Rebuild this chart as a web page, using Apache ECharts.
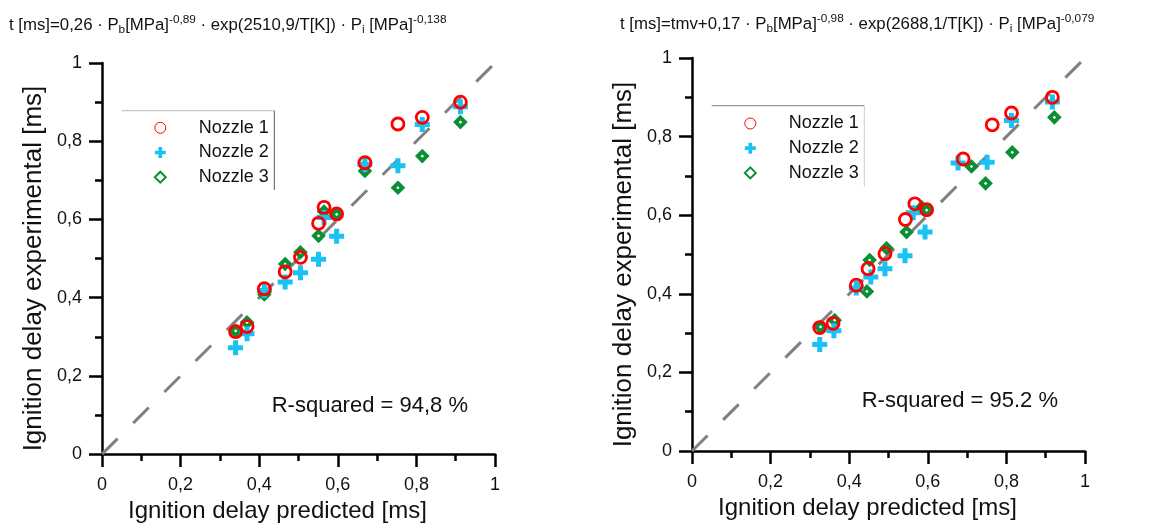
<!DOCTYPE html>
<html>
<head>
<meta charset="utf-8">
<script src="https://cdn.jsdelivr.net/npm/echarts@6/dist/echarts.min.js"></script>
<style>
html,body{margin:0;padding:0;background:#fff;}
#chart{width:1153px;height:528px;}
</style>
</head>
<body>
<div id="chart"></div>
<script>
// ---- Data ----
const seriesNames = ['Nozzle 1', 'Nozzle 2', 'Nozzle 3'];
const axisTicks = [0, 0.2, 0.4, 0.6, 0.8, 1];

// Left chart: predicted (same for all nozzles) and experimental values
const leftPredicted = [0.340, 0.369, 0.413, 0.466, 0.505, 0.551, 0.565, 0.597, 0.669, 0.753, 0.815, 0.912];
const leftExpN1 = [0.313, 0.326, 0.423, 0.466, 0.503, 0.590, 0.631, 0.614, 0.745, 0.844, 0.861, 0.900];
const leftExpN2 = [0.272, 0.308, 0.418, 0.440, 0.464, 0.498, 0.605, 0.557, 0.741, 0.737, 0.843, 0.888];
const leftExpN3 = [0.315, 0.337, 0.408, 0.486, 0.516, 0.558, 0.620, 0.613, 0.724, 0.681, 0.762, 0.849];

// Right chart
const rightPredN1 = [0.325, 0.359, 0.418, 0.448, 0.491, 0.543, 0.567, 0.597, 0.690, 0.764, 0.813, 0.917];
const rightExpN1  = [0.314, 0.325, 0.422, 0.464, 0.502, 0.589, 0.629, 0.614, 0.743, 0.830, 0.860, 0.900];
const rightPredN2 = [0.325, 0.361, 0.418, 0.455, 0.491, 0.542, 0.563, 0.593, 0.677, 0.751, 0.813, 0.917];
const rightExpN2  = [0.271, 0.306, 0.415, 0.443, 0.464, 0.497, 0.606, 0.557, 0.733, 0.735, 0.841, 0.888];
const rightPredN3 = [0.327, 0.363, 0.445, 0.452, 0.495, 0.546, 0.585, 0.597, 0.711, 0.747, 0.815, 0.922];
const rightExpN3  = [0.316, 0.333, 0.406, 0.486, 0.516, 0.557, 0.620, 0.613, 0.724, 0.681, 0.760, 0.849];

const identityLine = [[0, 0], [1, 1]];
const rSquaredLeft = 'R-squared = 94,8 %';
const rSquaredRight = 'R-squared = 95.2 %';
const xAxisName = 'Ignition delay predicted [ms]';
const yAxisName = 'Ignition delay experimental [ms]';

// ---- Styles ----
const FONT = 'Liberation Sans, Arial, Helvetica, sans-serif';
const RED = '#ff0000', CYAN = '#1ac2f4', GREEN = '#0a8f36';
const PLUS = 'path://M5,0H10V5H15V10H10V15H5V10H0V5H5Z';

function zip(xs, ys) { return xs.map((x, i) => [x, ys[i]]); }
function fmt(v) {
  const r = Math.round(v * 10) / 10;
  return String(r).replace('.', ',');
}

function makeAxis(gridIndex, isX) {
  const ax = {
    gridIndex: gridIndex, type: 'value', min: 0, max: 1, interval: 0.2,
    axisLine: { show: true, onZero: false, lineStyle: { color: '#000', width: 2.5 } },
    axisTick: { show: true, inside: false, length: 13, lineStyle: { color: '#000', width: 2.5 } },
    minorTick: { show: true, splitNumber: 2, length: 7, lineStyle: { color: '#000', width: 2.5 } },
    splitLine: { show: false },
    axisLabel: {
      color: '#111', fontFamily: FONT, fontSize: 18,
      margin: isX ? 22 : 20,
      formatter: fmt
    },
    name: isX ? xAxisName : yAxisName,
    nameLocation: 'middle',
    nameTextStyle: { color: '#111', fontFamily: FONT, fontSize: isX ? 24 : 26,
      padding: isX ? [0, 42, 0, 0] : [0, 20, 0, 0] },
    nameGap: isX ? 42 : 55
  };
  return ax;
}

function scatterSeries(name, idx, data, kind) {
  const s = { name: name, type: 'scatter', xAxisIndex: idx, yAxisIndex: idx, data: data, z: 3 };
  if (kind === 0) {
    s.symbol = 'circle'; s.symbolSize = 12; s.z = 5;
    s.itemStyle = { color: 'rgba(0,0,0,0)', borderColor: RED, borderWidth: 2.8, opacity: 1 };
  } else if (kind === 1) {
    s.symbol = PLUS; s.symbolSize = 15; s.z = 4;
    s.itemStyle = { color: CYAN, opacity: 1 };
  } else {
    s.symbol = 'diamond'; s.symbolSize = 9; s.z = 3;
    s.itemStyle = { color: '#ffffff', borderColor: GREEN, borderWidth: 4, opacity: 1 };
  }
  s.emphasis = { disabled: true };
  return s;
}

function lineSeries(idx) {
  return {
    type: 'line', xAxisIndex: idx, yAxisIndex: idx, data: identityLine,
    showSymbol: false, symbol: 'none', z: 1, silent: true,
    lineStyle: { color: '#808080', width: 3, type: [22, 22] }
  };
}

const legendData = [
  { name: seriesNames[0], icon: 'circle', itemStyle: { color: 'rgba(0,0,0,0)', borderColor: RED, borderWidth: 1 } },
  { name: seriesNames[1], icon: PLUS, itemStyle: { color: CYAN, borderWidth: 0 } },
  { name: seriesNames[2], icon: 'diamond', itemStyle: { color: '#fff', borderColor: GREEN, borderWidth: 2 } }
];

function makeLegend(left, top) {
  return {
    show: true, orient: 'vertical', left: left, top: top,
    itemWidth: 11, itemHeight: 11, itemGap: 6.7, padding: 0,
    selectedMode: false,
    data: legendData,
    textStyle: { color: '#111', fontFamily: FONT, fontSize: 18, lineHeight: 17, padding: [0, 0, 0, 28] }
  };
}

const titleRich = {
  b: { fontFamily: FONT, fontSize: 16.8, fontWeight: 'normal', color: '#111', lineHeight: 22 },
  sup: { fontFamily: FONT, fontSize: 11.8, fontWeight: 'normal', color: '#111', lineHeight: 13, verticalAlign: 'top' },
  sub: { fontFamily: FONT, fontSize: 11.8, fontWeight: 'normal', color: '#111', lineHeight: 13, verticalAlign: 'bottom' }
};

const option = {
  backgroundColor: '#ffffff',
  animation: false,
  title: [
    { left: 9, top: 14, text: '{b|t [ms]=0,26 · P}{sub|b}{b|[MPa]}{sup|-0,89}{b| · exp(2510,9/T[K]) · P}{sub|i}{b| [MPa]}{sup|-0,138}',
      textStyle: { rich: titleRich, fontWeight: 'normal' }, padding: 0 },
    { left: 620, top: 13, text: '{b|t [ms]=tmv+0,17 · P}{sub|b}{b|[MPa]}{sup|-0,98}{b| · exp(2688,1/T[K]) · P}{sub|i}{b| [MPa]}{sup|-0,079}',
      textStyle: { rich: titleRich, fontWeight: 'normal' }, padding: 0 }
  ],
  legend: [makeLegend(153.8, 118.8), makeLegend(743.8, 114.5)],
  grid: [
    { left: 102, top: 63, width: 393, height: 393 },
    { left: 692, top: 58, width: 393, height: 393 }
  ],
  xAxis: [makeAxis(0, true), makeAxis(1, true)],
  yAxis: [makeAxis(0, false), makeAxis(1, false)],
  series: [
    lineSeries(0),
    scatterSeries(seriesNames[2], 0, zip(leftPredicted, leftExpN3), 2),
    scatterSeries(seriesNames[1], 0, zip(leftPredicted, leftExpN2), 1),
    scatterSeries(seriesNames[0], 0, zip(leftPredicted, leftExpN1), 0),
    lineSeries(1),
    scatterSeries(seriesNames[2], 1, zip(rightPredN3, rightExpN3), 2),
    scatterSeries(seriesNames[1], 1, zip(rightPredN2, rightExpN2), 1),
    scatterSeries(seriesNames[0], 1, zip(rightPredN1, rightExpN1), 0)
  ],
  graphic: [
    { type: 'line', shape: { x1: 121.7, y1: 110.7, x2: 274.3, y2: 110.7 }, style: { stroke: '#bbbbbb', lineWidth: 1 } },
    { type: 'line', shape: { x1: 274.3, y1: 110.7, x2: 274.3, y2: 190 }, style: { stroke: '#555555', lineWidth: 1 } },
    { type: 'line', shape: { x1: 711.7, y1: 105.7, x2: 864.3, y2: 105.7 }, style: { stroke: '#999999', lineWidth: 1.2 } },
    { type: 'line', shape: { x1: 864.3, y1: 105.7, x2: 864.3, y2: 186.7 }, style: { stroke: '#cccccc', lineWidth: 1 } },
    { type: 'text', left: 271.7, top: 395, style: { text: rSquaredLeft, font: '22px ' + FONT, fill: '#111' } },
    { type: 'text', left: 861.7, top: 390, style: { text: rSquaredRight, font: '22px ' + FONT, fill: '#111' } }
  ]
};

const chart = echarts.init(document.getElementById('chart'), null, { renderer: 'canvas' });
chart.setOption(option);
</script>
</body>
</html>
